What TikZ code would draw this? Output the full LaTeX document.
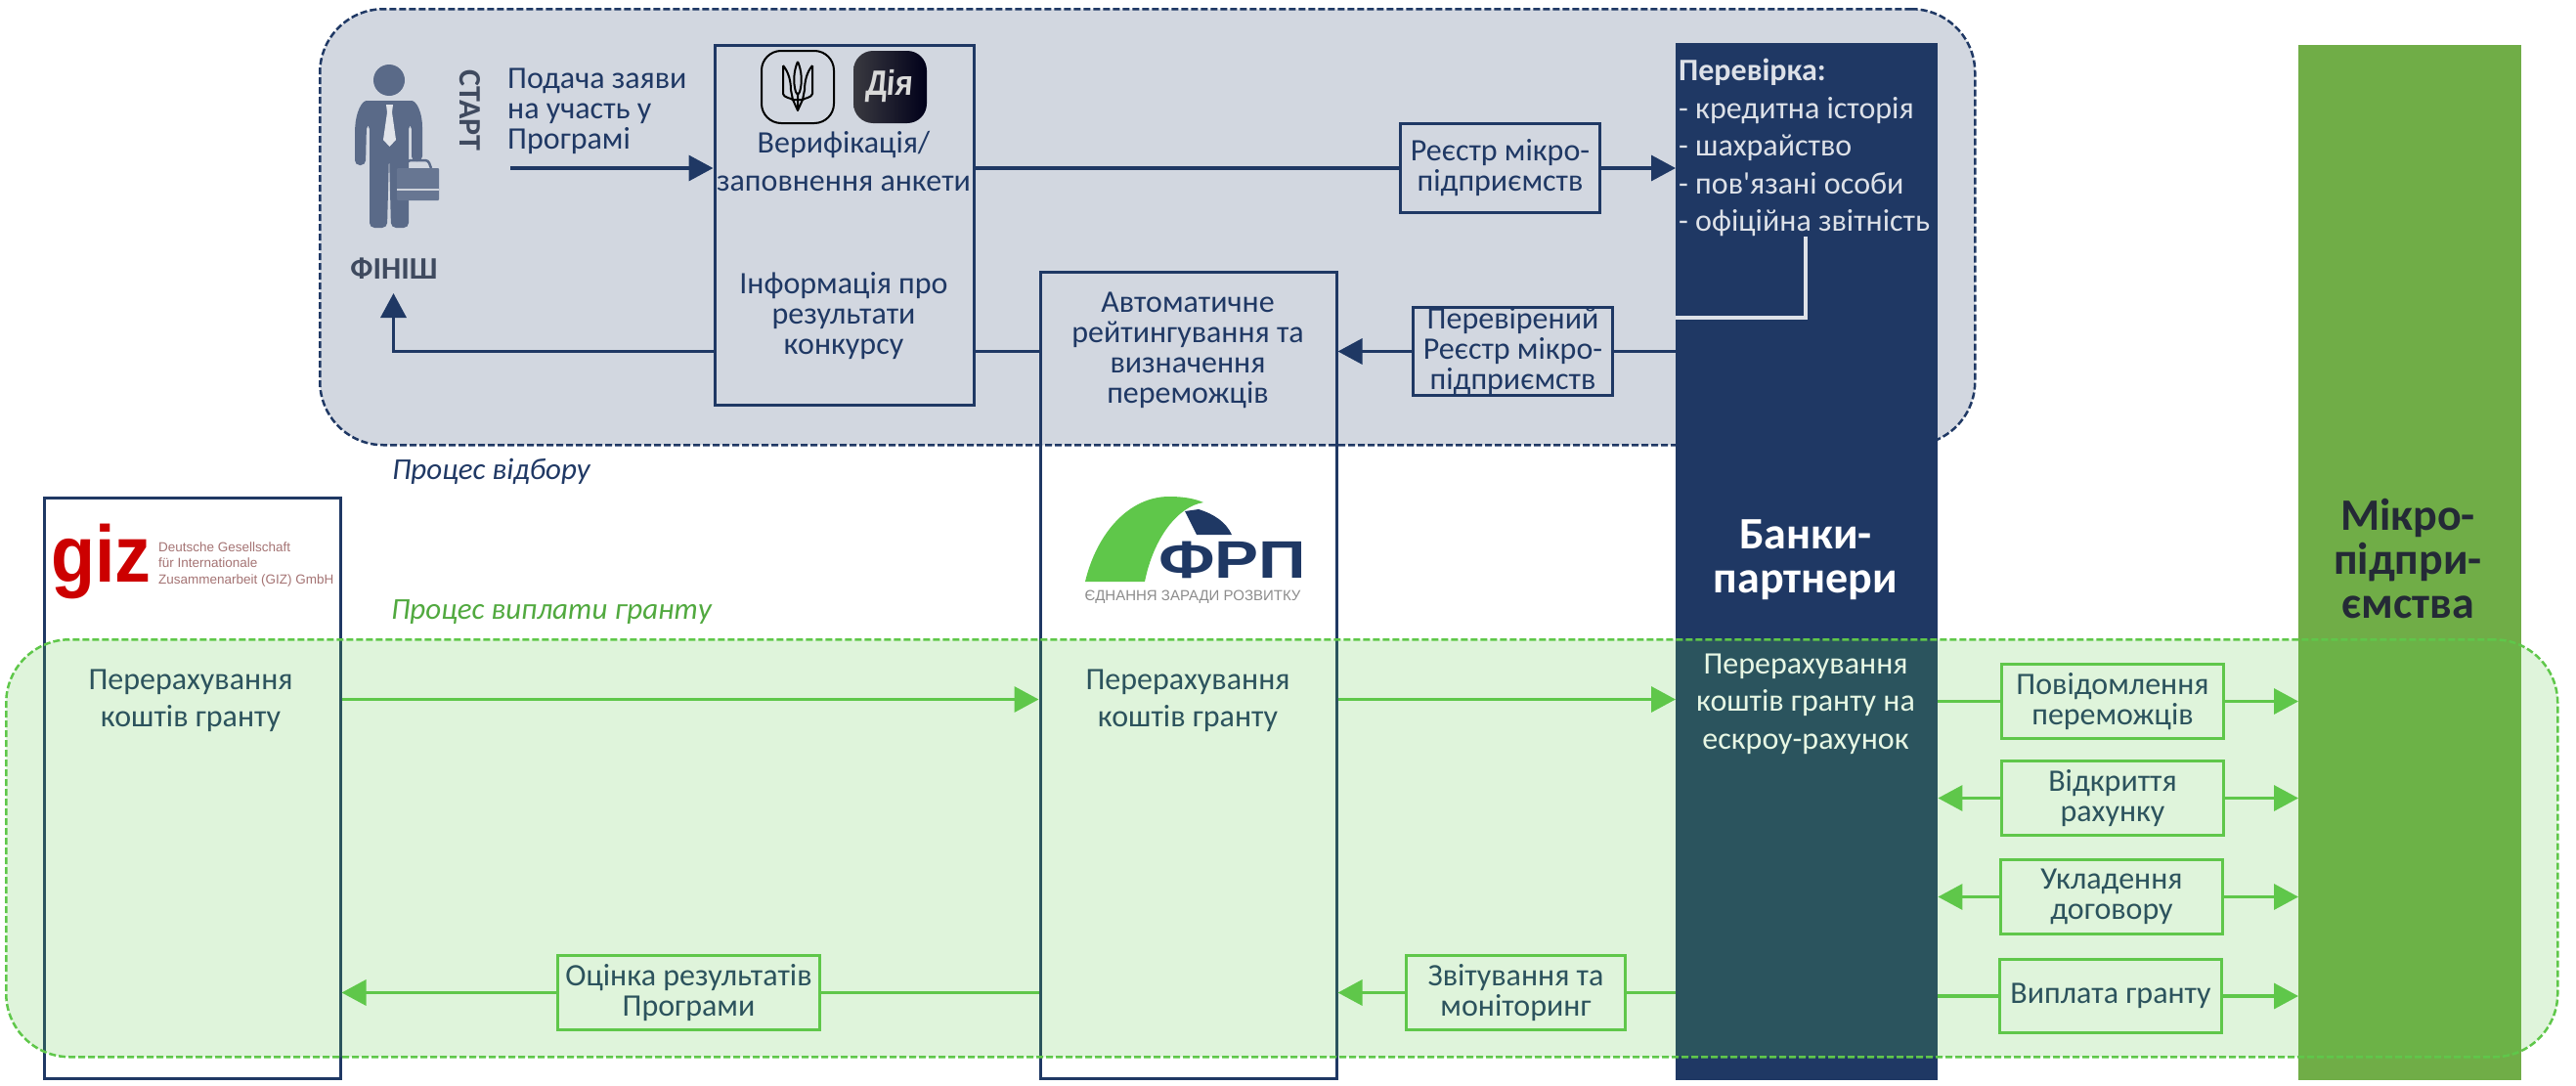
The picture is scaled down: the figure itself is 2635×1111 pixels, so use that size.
\documentclass[tikz,border=0pt]{standalone}
\usepackage{fontspec}
\setmainfont[Ligatures=TeXOff]{Carlito}
\newfontfamily\logofont{Liberation Sans}
\usetikzlibrary{arrows.meta}
\definecolor{navy}{HTML}{1F3864}
\definecolor{grantgreen}{HTML}{5FC74A}
\definecolor{microgreen}{HTML}{70AD47}
\definecolor{tealtext}{HTML}{2C535D}
\definecolor{figure}{HTML}{5A6A88}
\tikzset{
	txt/.style={font=\fontsize{32}{31}\selectfont,align=center,inner sep=0pt},
	widetxt/.style={txt,font=\fontsize{32}{38.5}\selectfont},
	bigtxt/.style={txt,font=\fontsize{46}{45}\selectfont\bfseries},
	region/.style={anchor=north west,inner sep=0pt,rounded corners=65pt,line width=2.5pt,dash pattern=on 7pt off 3pt,fill opacity=0.2},
	column/.style={anchor=north west,inner sep=0pt},
	navybox/.style={column,draw=navy,line width=3pt},
	greenbox/.style={txt,draw=grantgreen,line width=3.5pt,text=tealtext},
	regbox/.style={txt,draw=navy,line width=3pt,text=navy},
	navyline/.style={draw=navy,line width=3.5pt},
	navyarrow/.style={navyline,-{Triangle[length=25pt,width=26pt]}},
	greenline/.style={draw=grantgreen,line width=3.5pt},
	greenarrow/.style={greenline,-{Triangle[length=25pt,width=26pt]}},
	trident/.style={black,line width=2pt,line join=round},
}
\begin{document}
\begin{tikzpicture}[x=1pt,y=-1pt]
	\useasboundingbox (0,0) rectangle (2635,1111);
	\node[region,draw=navy,fill=navy,minimum width=1693pt,minimum height=446pt] at (326,8) (selection) {};
	\fill[figure] (398,82) circle (16);
	\fill[figure,rounded corners=5pt] (363,135) .. controls (364,115) and (370,103) .. (380,103) -- (416,103) .. controls (426,103) and (432,115) .. (432,135) -- (432,165) -- (421,165) -- (421,127) -- (418,127) -- (418,233) -- (400,233) -- (398,158) -- (396,233) -- (378,233) -- (378,127) -- (375,127) -- (374,169) -- (363,169) -- cycle;
	\fill[white!82!figure] (395,107) -- (402,107) -- (401,115) -- (405,143) -- (398.5,150) -- (392,143) -- (396,115) -- cycle;
	\draw[figure,line width=2.5pt,rounded corners=3pt] (415,172) -- (417,164) -- (438,164) -- (441,172);
	\fill[figure!92!white,rounded corners=1pt] (406,172) rectangle (449,205);
	\draw[white!70!figure,line width=1.5pt] (406,194) -- (449,194);
	\node[column,fill=navy,minimum width=268pt,minimum height=1061pt] at (1714,44) (bank) {};
	\node[column,fill=microgreen,minimum width=228pt,minimum height=1059pt] at (2351,46) (micro) {};
	\node[navybox,minimum width=265pt,minimum height=368pt] at (729.5,44.5) (verif) {};
	\node[navybox,minimum width=303pt,minimum height=825pt] at (1062.5,277) (frp) {};
	\node[navybox,minimum width=303pt,minimum height=594pt] at (43.5,508) (giz) {};
	\draw[rounded corners=20pt,black,line width=2pt] (779,52) rectangle (853,126);
	\draw[trident] (801,67) -- (801,96) .. controls (802,100) and (808,100) .. (811,102) (801,67) .. controls (807,74) and (809,84) .. (809,92) -- (811,102);
	\draw[trident] (831,67) -- (831,96) .. controls (830,100) and (824,100) .. (821,102) (831,67) .. controls (825,74) and (823,84) .. (823,92) -- (821,102);
	\draw[trident] (816,63) .. controls (812,72) and (811,84) .. (814,94) -- (816,97) -- (818,94) .. controls (821,84) and (820,72) .. (816,63);
	\draw[trident] (811,102) -- (816,113) -- (821,102) -- cycle (816,97) -- (816,113);
	\shade[rounded corners=20pt,left color=black!65!blue!25!white!30!black,right color=black!90!blue] (873,52) rectangle (948,126);
	\node[txt,text=white!85!black,font=\fontsize{36}{36}\selectfont\bfseries\logofont,xslant=0.08,xscale=0.85] at (910,88) (dia) {Дія};
	\draw[white!85!navy,line width=3.5pt] (1847,242) -- (1847,325) -- (bank.west |- 0,325);
	\node[txt,anchor=west,font=\fontsize{82}{82}\selectfont\bfseries\logofont,xscale=0.9,red!80!black] at (52,574) (gizlogo) {giz};
	\node[txt,anchor=west,align=left,font=\fontsize{13.5}{16.5}\selectfont\logofont,red!35!black!55] at (162,577) (giztag) {Deutsche Gesellschaft\\für Internationale\\Zusammenarbeit (GIZ) GmbH};
	\fill[grantgreen] (1110,595) .. controls (1122,545) and (1155,508) .. (1196,508) .. controls (1210,508) and (1222,510) .. (1231,514) .. controls (1205,518) and (1180,550) .. (1171,595) -- cycle;
	\fill[navy] (1212,523) -- (1226,521) .. controls (1242,526) and (1254,534) .. (1260,547) -- (1224,547) -- cycle;
	\node[txt,anchor=west,font=\fontsize{54}{54}\selectfont\bfseries\logofont,xscale=1.25,navy] at (1185,573) (frplogo) {ФРП};
	\node[txt,font=\fontsize{15}{15}\selectfont\logofont,black!45] at (1220,611) (frptag) {ЄДНАННЯ ЗАРАДИ РОЗВИТКУ};
	\node[region,draw=grantgreen,fill=grantgreen,minimum width=2610pt,minimum height=427pt] at (5,653) (grant) {};

	\node[txt,rotate=-90,font=\fontsize{32}{31}\selectfont\bfseries,text=figure!70!black] at (481,113) (start) {СТАРТ};
	\node[txt,font=\fontsize{32}{31}\selectfont\bfseries,text=figure!70!black] at (403,275) (finishlabel) {ФІНІШ};
	\node[txt,anchor=west,align=left,text=navy] at (519,114) (apply) {Подача заяви\\на участь у\\Програмі};
	\node[widetxt,text=navy] at (863,165) (veriftext) {Верифікація/\\заповнення анкети};
	\node[txt,text=navy] at (863,323) (result) {Інформація про\\результати\\конкурсу};
	\node[txt,text=navy] at (1215,358) (rating) {Автоматичне\\рейтингування та\\визначення\\переможців};
	\node[regbox,minimum width=204pt,minimum height=91pt] at (1534.5,172) (register) {Реєстр мікро-\\підприємств};
	\node[regbox,minimum width=204pt,minimum height=90pt] at (1547.5,359.5) (checked) {Перевірений\\Реєстр мікро-\\підприємств};
	\node[widetxt,anchor=north west,align=left,text=white!85!navy] at (1717,60) (checks) {\textbf{Перевірка:}\\- кредитна історія\\- шахрайство\\- пов'язані особи\\- офіційна звітність};
	\node[txt,anchor=west,font=\fontsize{31}{31}\selectfont\itshape,text=navy] at (401,482) (selectlabel) {Процес відбору};
	\node[txt,anchor=west,font=\fontsize{31}{31}\selectfont\itshape,text=grantgreen!85!black] at (400,626) (grantlabel) {Процес виплати гранту};
	\node[bigtxt,text=white] at (1847,573) (banktitle) {Банки-\\партнери};
	\node[bigtxt,text=figure!40!black] at (2463,572) (microtitle) {Мікро-\\підпри-\\ємства};

	\node[widetxt,text=tealtext] at (195,717) (gizpay) {Перерахування\\коштів гранту};
	\node[widetxt,text=tealtext] at (1215,717) (frppay) {Перерахування\\коштів гранту};
	\node[widetxt,text=white!85!grantgreen] at (1847,720) (bankpay) {Перерахування\\коштів гранту на\\ескроу-рахунок};
	\node[greenbox,minimum width=227pt,minimum height=76pt] at (2161,717.5) (notify) {Повідомлення\\переможців};
	\node[greenbox,minimum width=227pt,minimum height=76pt] at (2161,816.5) (account) {Відкриття\\рахунку};
	\node[greenbox,minimum width=227pt,minimum height=76pt] at (2160,917.5) (contract) {Укладення\\договору};
	\node[greenbox,minimum width=227pt,minimum height=75pt] at (2159,1019) (payout) {Виплата гранту};
	\node[greenbox,minimum width=224pt,minimum height=76pt] at (1550.5,1015.5) (report) {Звітування та\\моніторинг};
	\node[greenbox,minimum width=268pt,minimum height=76pt] at (704.5,1015.5) (evaluate) {Оцінка результатів\\Програми};

	\coordinate (startflow) at (522,172);
	\coordinate (finishtip) at (402.5,300);
	\coordinate (grantrow) at (0,715.5);
	\draw[navyarrow] (startflow) -- (verif.west |- startflow);
	\draw[navyline] (verif.east |- register.west) -- (register.west);
	\draw[navyarrow] (register.east) -- (bank.west |- register.east);
	\draw[navyline] (bank.west |- checked.east) -- (checked.east);
	\draw[navyarrow] (checked.west) -- (frp.east |- checked.west);
	\draw[navyline] (frp.west |- checked.west) -- (verif.east |- checked.west);
	\draw[navyarrow] (verif.west |- checked.west) -| (finishtip);
	\draw[greenarrow] (giz.east |- grantrow) -- (frp.west |- grantrow);
	\draw[greenarrow] (frp.east |- grantrow) -- (bank.west |- grantrow);
	\draw[greenline] (bank.east |- notify.west) -- (notify.west);
	\draw[greenarrow] (notify.east) -- (micro.west |- notify.east);
	\draw[greenarrow] (account.west) -- (bank.east |- account.west);
	\draw[greenarrow] (account.east) -- (micro.west |- account.east);
	\draw[greenarrow] (contract.west) -- (bank.east |- contract.west);
	\draw[greenarrow] (contract.east) -- (micro.west |- contract.east);
	\draw[greenline] (bank.east |- payout.west) -- (payout.west);
	\draw[greenarrow] (payout.east) -- (micro.west |- payout.east);
	\draw[greenline] (bank.west |- report.east) -- (report.east);
	\draw[greenarrow] (report.west) -- (frp.east |- report.west);
	\draw[greenline] (frp.west |- evaluate.east) -- (evaluate.east);
	\draw[greenarrow] (evaluate.west) -- (giz.east |- evaluate.west);
\end{tikzpicture}
\end{document}
